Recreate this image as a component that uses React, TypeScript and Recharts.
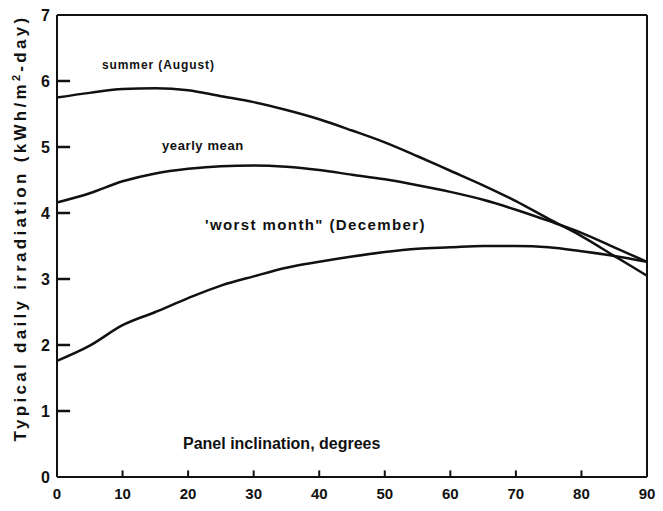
import { LineChart, Line, XAxis, YAxis, ReferenceLine } from "recharts";

// panel tilt in degrees
const inclination = [0, 5, 10, 15, 20, 25, 30, 35, 40, 45, 50, 55, 60, 65, 70, 75, 80, 85, 90];

// kWh/m2-day
const summerAugust = [5.75, 5.82, 5.88, 5.89, 5.86, 5.77, 5.68, 5.56, 5.42, 5.25, 5.07, 4.86, 4.64, 4.42, 4.18, 3.91, 3.65, 3.35, 3.05];
const yearlyMean = [4.16, 4.3, 4.48, 4.6, 4.67, 4.71, 4.72, 4.7, 4.65, 4.58, 4.51, 4.42, 4.32, 4.2, 4.05, 3.88, 3.7, 3.48, 3.26];
const worstMonth = [1.76, 1.99, 2.3, 2.5, 2.71, 2.9, 3.04, 3.17, 3.26, 3.34, 3.41, 3.46, 3.48, 3.5, 3.5, 3.48, 3.42, 3.35, 3.26];

const xTicks = [0, 10, 20, 30, 40, 50, 60, 70, 80, 90];
const yTicks = [0, 1, 2, 3, 4, 5, 6, 7];

const FONT = "'Liberation Sans', Arial, sans-serif";
const INK = "#111";

const data = inclination.map((deg, i) => ({
  deg,
  summer: summerAugust[i],
  yearly: yearlyMean[i],
  worst: worstMonth[i],
}));

const note = (x: number, y: number, size: number, spacing: number): React.CSSProperties => ({
  position: "absolute",
  left: x,
  top: y,
  fontFamily: FONT,
  fontWeight: 700,
  fontSize: size,
  letterSpacing: spacing,
  color: INK,
  whiteSpace: "nowrap",
  lineHeight: 1,
});

export default function App() {
  return (
    <div style={{ position: "absolute", left: 0, top: 0, width: 663, height: 511, background: "#fff" }}>
      <LineChart
        width={663}
        height={511}
        data={data}
        margin={{ top: 15, right: 16, bottom: 0, left: 0 }}
      >
        <XAxis
          dataKey="deg"
          type="number"
          domain={[0, 90]}
          ticks={xTicks}
          height={34}
          stroke={INK}
          strokeWidth={2}
          tickLine={false}
          tickSize={0}
          tickMargin={11}
          tick={{ fontSize: 15, fontWeight: 700, fill: INK, fontFamily: FONT }}
        />
        <YAxis
          type="number"
          domain={[0, 7]}
          ticks={yTicks}
          width={57}
          stroke={INK}
          strokeWidth={2}
          tickLine={false}
          tickSize={0}
          tickMargin={7}
          tick={{ fontSize: 16, fontWeight: 700, fill: INK, fontFamily: FONT }}
        />
        <ReferenceLine y={7} stroke={INK} strokeWidth={2} />
        <ReferenceLine x={90} stroke={INK} strokeWidth={2} />
        {/* inward tick marks */}
        {yTicks.slice(1, -1).map((v) => (
          <ReferenceLine
            key={`yt${v}`}
            segment={[{ x: 0, y: v }, { x: 2, y: v }]}
            stroke={INK}
            strokeWidth={2.5}
            ifOverflow="visible"
          />
        ))}
        {xTicks.slice(1, -1).map((v) => (
          <ReferenceLine
            key={`xt${v}`}
            segment={[{ x: v, y: 0 }, { x: v, y: 0.1 }]}
            stroke={INK}
            strokeWidth={2}
            ifOverflow="visible"
          />
        ))}
        <Line dataKey="summer" type="monotone" stroke={INK} strokeWidth={2.5} dot={false} isAnimationActive={false} />
        <Line dataKey="yearly" type="monotone" stroke={INK} strokeWidth={2.5} dot={false} isAnimationActive={false} />
        <Line dataKey="worst" type="monotone" stroke={INK} strokeWidth={2.5} dot={false} isAnimationActive={false} />
      </LineChart>

      <div style={note(102, 59, 12, 0.9)}>summer (August)</div>
      <div style={note(162, 139, 13, 0.6)}>yearly mean</div>
      <div style={note(205, 217, 15, 1.4)}>'worst month" (December)</div>
      <div style={note(183, 436, 16, 0)}>Panel inclination, degrees</div>
      <div
        style={{
          ...note(20, 228, 17, 3.3),
          transform: "translate(-50%, -50%) rotate(-90deg)",
        }}
      >
        Typical daily irradiation (kWh/m<sup style={{ fontSize: 11 }}>2</sup>-day)
      </div>
    </div>
  );
}
